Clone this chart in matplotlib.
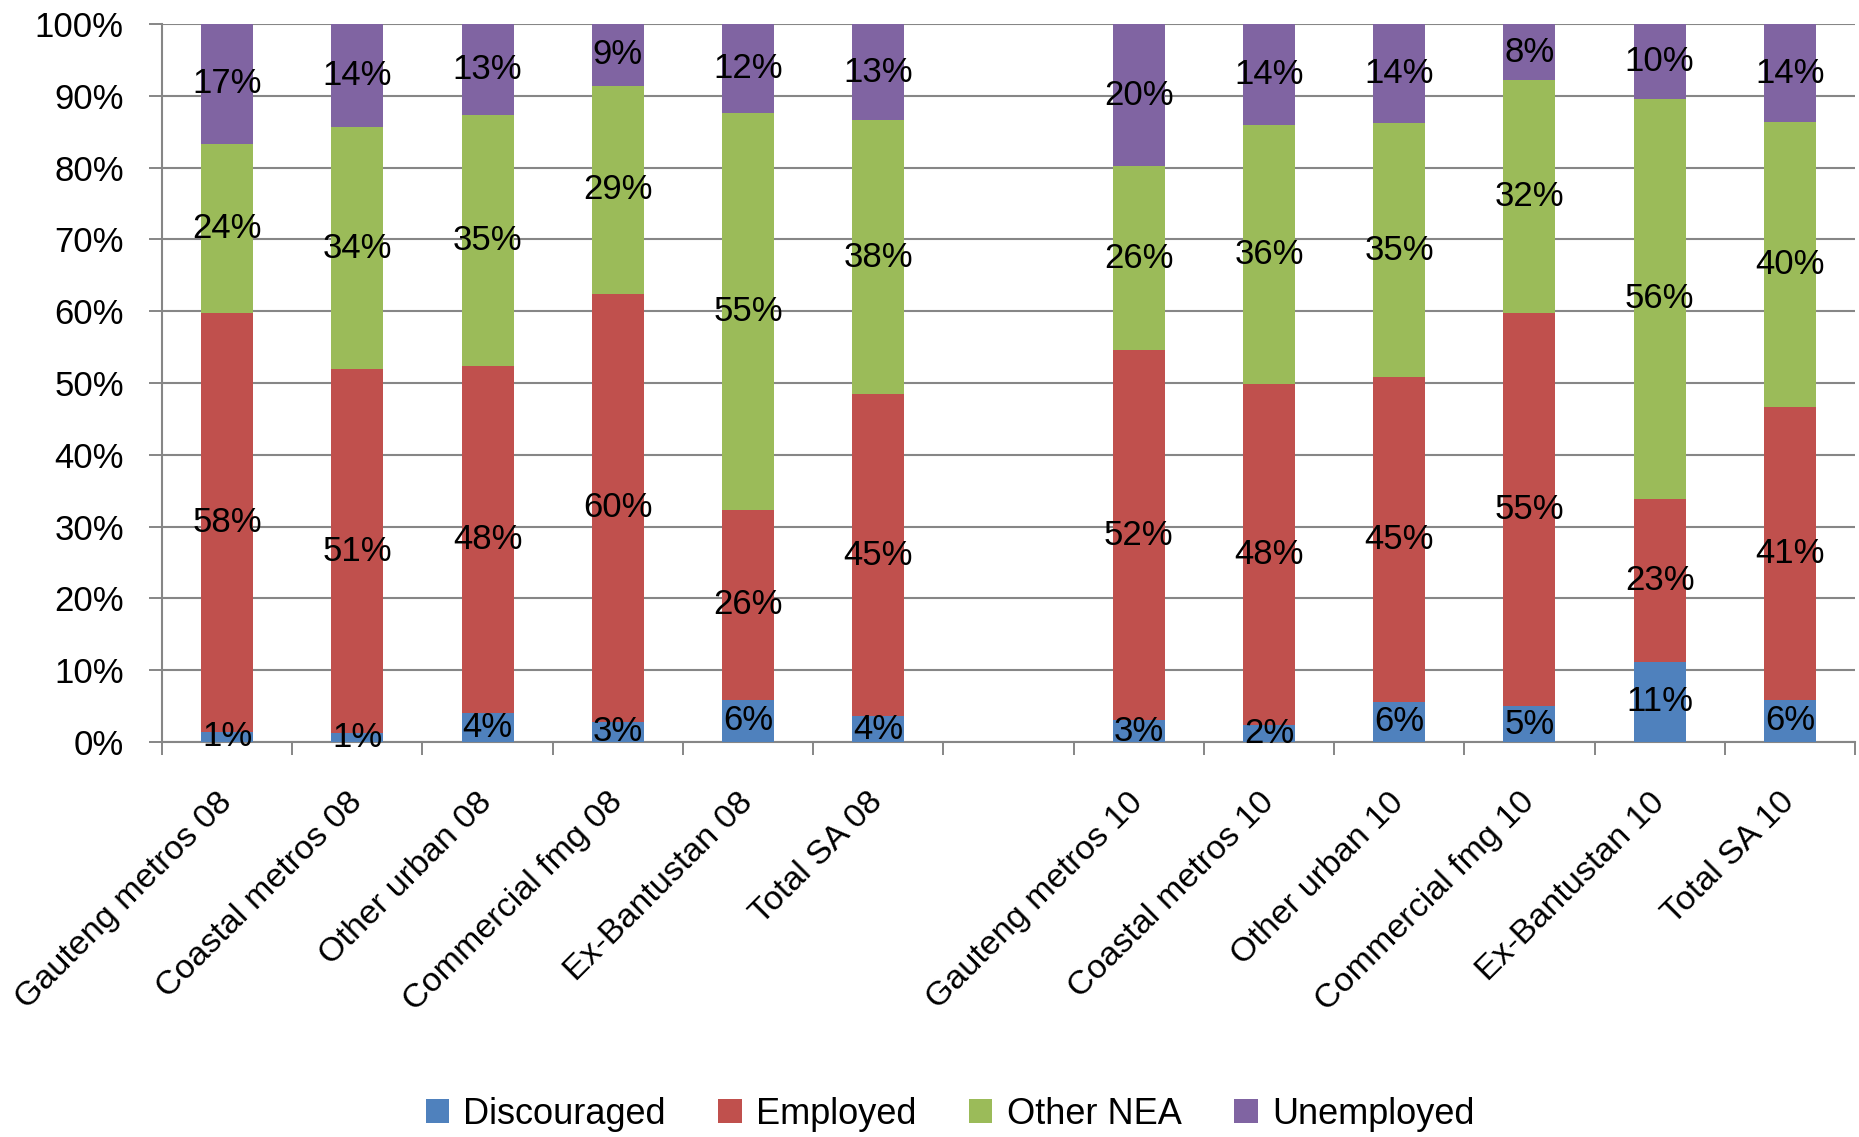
import matplotlib
matplotlib.use("Agg")
import matplotlib.pyplot as plt
import numpy as np
from matplotlib.patches import Patch
from matplotlib.ticker import FixedLocator

plt.rcParams['font.family'] = ['Liberation Sans', 'DejaVu Sans']

categories = ["Gauteng metros 08", "Coastal metros 08", "Other urban 08",
              "Commercial fmg 08", "Ex-Bantustan 08", "Total SA 08",
              "Gauteng metros 10", "Coastal metros 10", "Other urban 10",
              "Commercial fmg 10", "Ex-Bantustan 10", "Total SA 10"]
slots = [0, 1, 2, 3, 4, 5, 7, 8, 9, 10, 11, 12]  # slot 6 is an empty category

discouraged = [1.4, 1.2, 4.0, 2.8, 5.9, 3.6, 3.0, 2.3, 5.6, 5.0, 11.2, 5.9]
employed = [58.3, 50.8, 48.3, 59.6, 26.4, 44.8, 51.6, 47.6, 45.2, 54.8, 22.6, 40.8]
other_nea = [23.6, 33.6, 35.0, 29.0, 55.3, 38.2, 25.6, 36.1, 35.4, 32.4, 55.8, 39.6]
unemployed = [16.7, 14.4, 12.7, 8.6, 12.4, 13.4, 19.8, 14.0, 13.8, 7.8, 10.4, 13.7]

series_names = ["Discouraged", "Employed", "Other NEA", "Unemployed"]
colors = ["#4F81BD", "#C0504D", "#9BBB59", "#8064A2"]
y_ticks = [0, 10, 20, 30, 40, 50, 60, 70, 80, 90, 100]

W, H = 1859, 1137
fig = plt.figure(figsize=(W / 100, H / 100), dpi=100)
left, right, top, bottom = 162, 1855, 24, 742
ax = fig.add_axes([left / W, 1 - bottom / H, (right - left) / W, (bottom - top) / H])

grey = "#868686"
x = np.array(slots, dtype=float)
base = np.zeros(len(x))
for name, vals, col in zip(series_names, [discouraged, employed, other_nea, unemployed], colors):
    vals = np.array(vals)
    ax.bar(x, vals, width=0.4, bottom=base, color=col, zorder=3, label=name)
    for xi, b, v in zip(x, base, vals):
        ax.text(xi, b + v / 2, f"{int(v + 0.5)}%", ha="center", va="center",
                fontsize=25, color="black", zorder=4)
    base = base + vals

ax.set_xlim(-0.5, 12.5)
ax.set_ylim(0, 100)
ax.set_yticks(y_ticks)
ax.set_yticklabels([f"{t}%" for t in y_ticks], fontsize=25)
ax.yaxis.grid(True, color=grey, linewidth=1.5, zorder=0)
ax.set_axisbelow(True)
ax.tick_params(axis="y", length=9.5, width=1.4, color=grey, pad=18)

ax.set_xticks(x)
ax.set_xticklabels(categories, rotation=45, ha="right", va="center",
                   rotation_mode="anchor", fontsize=24.5)
ax.tick_params(axis="x", which="major", length=0, pad=40)
ax.xaxis.set_minor_locator(FixedLocator(np.arange(-0.5, 13, 1.0)))
ax.tick_params(axis="x", which="minor", length=9.5, width=1.4, color=grey)

for s in ["top", "right"]:
    ax.spines[s].set_visible(False)
for s in ["left", "bottom"]:
    ax.spines[s].set_color(grey)
    ax.spines[s].set_linewidth(1.5)

handles = [Patch(facecolor=c, edgecolor="none") for c in colors]
fig.legend(handles, series_names, loc="center", bbox_to_anchor=(950 / W, 1 - 1114 / H),
           ncol=4, frameon=False, fontsize=26, handlelength=0.65, handleheight=0.65,
           handletextpad=0.4, columnspacing=1.45)

fig.savefig("out.png", dpi=100)
